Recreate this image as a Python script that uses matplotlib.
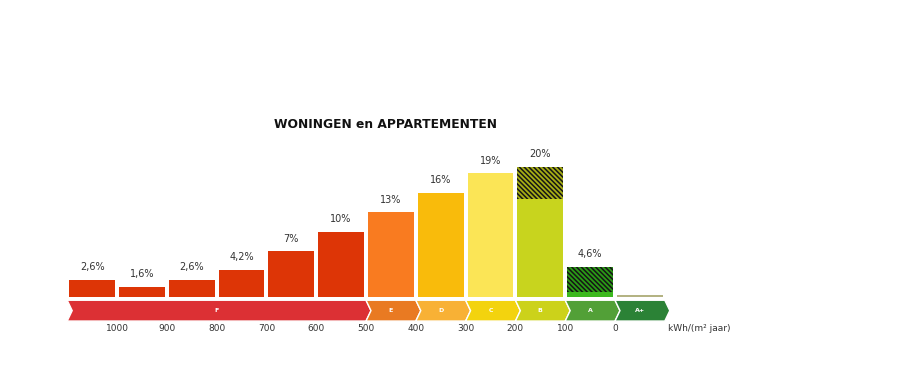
import matplotlib
matplotlib.use("Agg")
import matplotlib.pyplot as plt
from matplotlib.patches import Polygon

# energielabel data (kWh/(m2 jaar), aandeel in %)
bar_left = [1100, 1000, 900, 800, 700, 600, 500, 400, 300, 200, 100, 0]
solid = [2.6, 1.6, 2.6, 4.2, 7, 10, 13, 16, 19, 15, 0.7, 0.3]
hatched = [0, 0, 0, 0, 0, 0, 0, 0, 0, 5, 3.9, 0]
labels = ["2,6%", "1,6%", "2,6%", "4,2%", "7%", "10%", "13%", "16%", "19%", "20%", "4,6%", ""]
bar_colors = ["#dd3506"] * 6 + ["#f97b20", "#f9bb0b", "#fbe556", "#c8d41e", "#3cb81e", "#b4b383"]
hatch_colors = {9: "#a6ae14", 10: "#2a9a16"}

klassen = ["F", "E", "D", "C", "B", "A", "A+"]
klasse_van = [1100, 500, 400, 300, 200, 100, 0]
klasse_tot = [500, 400, 300, 200, 100, 0, -100]
klasse_kleur = ["#dc3034", "#e97a22", "#f8b135", "#f3d30e", "#ccd21a", "#52a037", "#2b8236"]

ticks = [1000, 900, 800, 700, 600, 500, 400, 300, 200, 100, 0]
eenheid = "kWh/(m² jaar)"
titel = "WONINGEN en APPARTEMENTEN"

plt.rcParams["hatch.linewidth"] = 1.1

fig = plt.figure(figsize=(9.06, 3.85), dpi=100)
# x as: 1000 kWh -> 117 px, 0 kWh -> 615 px
ax = fig.add_axes([60 / 906, 0, 680 / 906, 1])
ax.set_xlim(1114.5, -251)
ax.set_ylim(-13.54, 45.69)
ax.axis("off")

breedte = 92
centers = [b - 50 for b in bar_left]
for i in range(len(centers)):
    ax.bar(centers[i], solid[i], width=breedte, color=bar_colors[i], linewidth=0)
    if hatched[i] > 0:
        ax.bar(centers[i], hatched[i], bottom=solid[i], width=breedte,
               color=hatch_colors[i], edgecolor="#151515", hatch="\\" * 7, linewidth=0)
    if labels[i]:
        ax.text(centers[i], solid[i] + hatched[i] + 1.2, labels[i], ha="center", va="bottom",
                fontsize=7, color="#333333")

# pijlenbalk met klassen
top, bot = -0.5, -3.7
mid = (top + bot) / 2
d = 10
for k in range(len(klassen)):
    L, R = klasse_van[k], klasse_tot[k]
    pts = [(L, top), (R, top), (R - d, mid), (R, bot), (L, bot), (L - d, mid)]
    ax.add_patch(Polygon(pts, closed=True, facecolor=klasse_kleur[k], edgecolor="white", linewidth=1))
    ax.text((L + R) / 2, mid, klassen[k], ha="center", va="center", fontsize=4.5,
            color="white", fontweight="bold")

for t in ticks:
    ax.text(t, -4.8, str(t), ha="center", va="center", fontsize=6.5, color="#333333")
ax.text(-106, -4.8, eenheid, ha="left", va="center", fontsize=6.5, color="#333333")

ax.text(460, 26.5, titel, ha="center", va="center", fontsize=8.8, fontweight="bold", color="#111111")

fig.savefig("out.png", dpi=100, facecolor="white")
